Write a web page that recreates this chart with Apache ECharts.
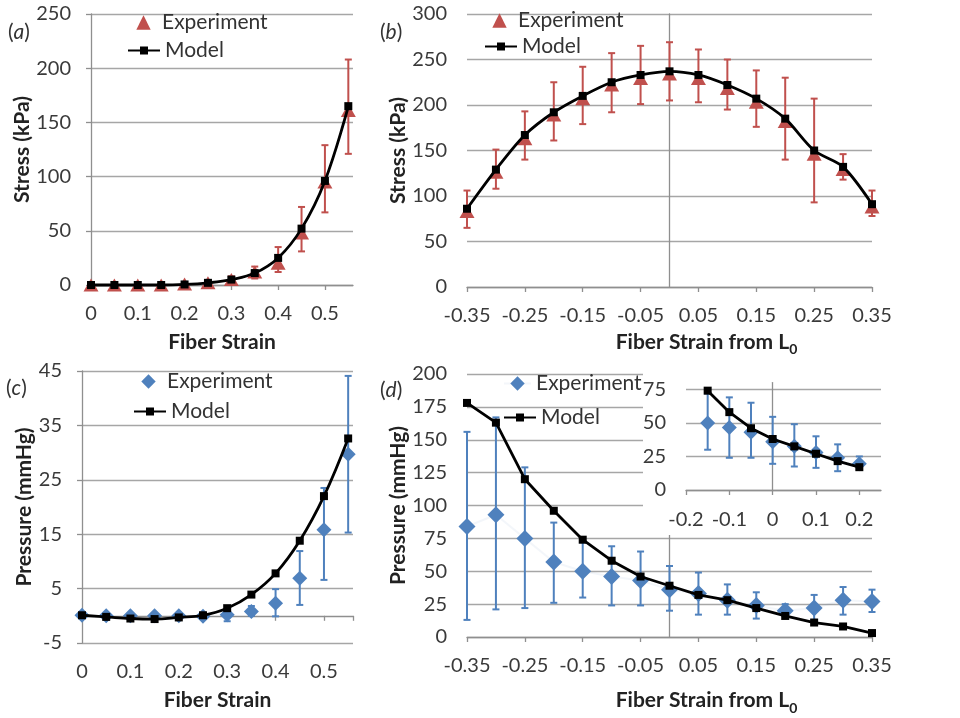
<!DOCTYPE html>
<html><head><meta charset="utf-8">
<script src="https://cdn.jsdelivr.net/npm/echarts@6/dist/echarts.min.js"></script>
<style>html,body{margin:0;padding:0;background:#fff}#c{width:960px;height:718px}</style>
</head><body><div id="c"></div>
<script>
// ---------- data ----------
const strainA = [0, 0.05, 0.1, 0.15, 0.2, 0.25, 0.3, 0.35, 0.4, 0.45, 0.5, 0.55];
const expA    = [0, 0, 0, 0, 1, 2, 5, 12, 20, 48, 95, 161];
const expALo  = [0, 0, 0, 0, 0, 0, 1, 6, 12, 31, 67, 121];
const expAHi  = [0, 0, 0, 1, 2, 4, 8, 17, 35, 72, 129, 208];
const modelA  = [0, 0, 0, 0, 0.5, 2, 5, 11, 25, 52, 96, 165];

const strainB = [-0.35, -0.3, -0.25, -0.2, -0.15, -0.1, -0.05, 0, 0.05, 0.1, 0.15, 0.2, 0.25, 0.3, 0.35];
const expB    = [83, 126, 163, 189, 207, 222, 229, 234, 229, 218, 203, 182, 146, 129, 88];
const expBLo  = [65, 108, 140, 161, 179, 192, 201, 205, 203, 195, 176, 140, 93, 118, 78];
const expBHi  = [106, 151, 193, 225, 242, 257, 265, 269, 261, 250, 238, 230, 207, 146, 106];
const modelB  = [86, 129, 167, 192, 210, 225, 233, 237, 233, 222, 207, 185, 150, 132, 91];

const strainC = [0, 0.05, 0.1, 0.15, 0.2, 0.25, 0.3, 0.35, 0.4, 0.45, 0.5, 0.55];
const expC    = [0.1, 0, 0, 0, 0, -0.1, 0.2, 0.8, 2.3, 6.9, 15.8, 29.7];
const expCLo  = [0, 0, 0, 0, 0, -0.1, -1, 0, -0.1, 2, 6.6, 15.3];
const expCHi  = [0.2, 0, 0, 0, 0, -0.1, 1.2, 1.8, 4.9, 11.9, 23.5, 44.1];
const modelC  = [0.1, -0.2, -0.5, -0.6, -0.3, 0.1, 1.4, 3.9, 7.8, 13.8, 22, 32.6];

const strainD = [-0.35, -0.3, -0.25, -0.2, -0.15, -0.1, -0.05, 0, 0.05, 0.1, 0.15, 0.2, 0.25, 0.3, 0.35];
const expD    = [84, 93, 75, 57, 50, 46, 43, 36, 33, 28, 24, 20, 22, 28, 27];
const expDLo  = [13, 21, 22, 26, 30, 24, 24, 20, 17, 17, 14, 16, 13, 17, 19];
const expDHi  = [156, 167, 129, 87, 72, 69, 65, 54, 49, 40, 34, 25, 32, 38, 36];
const modelD  = [178, 163, 120, 96, 74, 58, 46, 39, 32, 28, 22, 16, 11, 8, 3];

const strainIn = [-0.15, -0.1, -0.05, 0, 0.05, 0.1, 0.15, 0.2];
const expIn    = [50, 46.5, 43, 36, 32.5, 28, 24, 19.5];
const expInLo  = [30, 24, 24, 19.5, 17.5, 16.5, 14, 16];
const expInHi  = [72, 69, 65, 54.5, 49, 40, 34, 25];
const modelIn  = [74, 58, 46, 38, 32.5, 27, 21.5, 17];

// ---------- style ----------
const FONT = 'Lato, "Open Sans", "DejaVu Sans", sans-serif';
const GRID = '#a6a6a6', AXIS = '#8f8f8f', TXT = '#3a3a3a', TITLE = '#222';
const RED = '#C0504D', BLUE = '#4F81BD';

const pairs = (x, y) => x.map((v, i) => [v, y[i]]);
const triples = (x, lo, hi) => x.map((v, i) => [v, lo[i], hi[i]]);

function errRender(color) {
  return function (params, api) {
    const x = api.value(0);
    const p1 = api.coord([x, api.value(1)]);
    const p2 = api.coord([x, api.value(2)]);
    const st = { stroke: color, lineWidth: 2 };
    const c = 3.5;
    return { type: 'group', children: [
      { type: 'line', shape: { x1: p1[0], y1: p1[1], x2: p2[0], y2: p2[1] }, style: st },
      { type: 'line', shape: { x1: p1[0] - c, y1: p1[1], x2: p1[0] + c, y2: p1[1] }, style: st },
      { type: 'line', shape: { x1: p2[0] - c, y1: p2[1], x2: p2[0] + c, y2: p2[1] }, style: st }
    ]};
  };
}

const labelStyle = { fontFamily: FONT, fontSize: 20, color: TXT };
const nameStyleX = { fontFamily: FONT, fontSize: 21, fontWeight: 'bold', color: TITLE, lineHeight: 30,
  rich: { s: { fontFamily: FONT, fontSize: 14, fontWeight: 'bold', color: TITLE, verticalAlign: 'bottom', lineHeight: 14 } } };
const nameStyleY = { fontFamily: FONT, fontSize: 21, fontWeight: 'bold', color: TITLE };

function xAxis(gi, min, max, interval, o) {
  return Object.assign({
    type: 'value', gridIndex: gi, min: min, max: max, interval: interval, position: 'bottom',
    axisLine: { show: true, onZero: false, lineStyle: { color: AXIS, width: 1.3 } },
    axisTick: { show: true, length: 5, lineStyle: { color: AXIS, width: 1.3 } },
    axisLabel: Object.assign({ margin: 19, showMaxLabel: false }, labelStyle),
    splitLine: { show: false },
    nameLocation: 'middle', nameTextStyle: nameStyleX
  }, o || {});
}
function yAxis(gi, min, max, interval, o) {
  return Object.assign({
    type: 'value', gridIndex: gi, min: min, max: max, interval: interval, position: 'left',
    axisLine: { show: true, onZero: false, lineStyle: { color: AXIS, width: 1.3 } },
    axisTick: { show: true, length: 5, lineStyle: { color: AXIS, width: 1.3 } },
    axisLabel: Object.assign({ margin: 20 }, labelStyle),
    splitLine: { show: true, lineStyle: { color: GRID, width: 1.3 } },
    nameLocation: 'middle', nameRotate: 90, nameTextStyle: nameStyleY
  }, o || {});
}
function zeroY(gi, min, max, z) {
  return { type: 'value', gridIndex: gi, min: min, max: max, position: 'left', z: z || 0,
    axisLine: { show: true, onZero: true, lineStyle: { color: AXIS, width: 1.3 } },
    axisTick: { show: false }, axisLabel: { show: false }, splitLine: { show: false } };
}

function errSeries(name, xi, yi, x, lo, hi, color, z) {
  return { type: 'custom', name: name, xAxisIndex: xi, yAxisIndex: yi, z: z,
    renderItem: errRender(color), encode: { x: 0, y: [1, 2] }, data: triples(x, lo, hi), silent: true, clip: false };
}
function expSeries(name, xi, yi, x, y, color, sym, size, z, faint) {
  return { type: 'line', name: name, xAxisIndex: xi, yAxisIndex: yi, z: z,
    data: pairs(x, y), symbol: sym, symbolSize: size, showSymbol: true, clip: false, silent: true,
    itemStyle: { color: color }, animation: false,
    lineStyle: faint ? { width: 2, color: 'rgba(79,129,189,0.07)' } : { width: 0, opacity: 0 } };
}
function modelSeries(name, xi, yi, x, y, smooth, z) {
  return { type: 'line', name: name, xAxisIndex: xi, yAxisIndex: yi, z: z,
    data: pairs(x, y), symbol: 'rect', symbolSize: 8, showSymbol: true, clip: false, silent: true,
    smooth: smooth, itemStyle: { color: '#000' }, lineStyle: { color: '#000', width: 2.8 }, animation: false };
}

function legendPair(expName, modName, expLeft, expCy, modLeft, modCy) {
  const base = { orient: 'vertical', padding: 0, selectedMode: false,
    formatter: n => n.replace(/ \(.\)$/, ''),
    textStyle: { fontFamily: FONT, fontSize: 21, color: '#333' } };
  return [
    Object.assign({}, base, { data: [expName], left: expLeft, top: expCy - 12, itemWidth: 27, itemHeight: 18 }),
    Object.assign({}, base, { data: [modName], left: modLeft, top: modCy - 12, itemWidth: 32, itemHeight: 10 })
  ];
}

function panelTitle(letter, left, top) {
  return { text: '({i|' + letter + '})', left: left, top: top, padding: 0,
    textStyle: { fontFamily: FONT, fontSize: 21, fontWeight: 'normal', color: '#333',
      rich: { i: { fontFamily: FONT, fontSize: 21, fontStyle: 'italic', color: '#333' } } } };
}

const option = {
  animation: false,
  backgroundColor: '#fff',
  title: [panelTitle('a', 8, 22), panelTitle('b', 380, 22), panelTitle('c', 6, 378), panelTitle('d', 380, 380)],
  legend: [].concat(
    legendPair('Experiment (a)', 'Model (a)', 130, 24, 127, 52),
    legendPair('Experiment (b)', 'Model (b)', 486, 22, 484, 48),
    legendPair('Experiment (c)', 'Model (c)', 135, 383, 133, 413),
    legendPair('Experiment (d)', 'Model (d)', 503, 385, 503, 419)
  ),
  grid: [
    { left: 91, top: 14, width: 262, height: 271 },
    { left: 467, top: 14, width: 405, height: 273 },
    { left: 82, top: 371, width: 271, height: 272 },
    { left: 467, top: 374, width: 405, height: 263 },
    { left: 686, top: 382.6, width: 195, height: 107.4 }
  ],
  graphic: [
    { type: 'rect', left: 643, top: 366, shape: { width: 317, height: 169 }, style: { fill: '#fff' }, z: 5, silent: true }
  ],
  xAxis: [
    xAxis(0, 0, 0.56, 0.1, { name: 'Fiber Strain', nameGap: 42 }),
    xAxis(1, -0.35, 0.35, 0.1, { name: 'Fiber Strain from L{s|0}', nameGap: 39, axisLabel: Object.assign({ margin: 19, showMaxLabel: true }, labelStyle),
      nameTextStyle: Object.assign({}, nameStyleX, { padding: [0, 0, 0, 74] }) }),
    xAxis(2, 0, 0.56, 0.1, { name: 'Fiber Strain', nameGap: 42, axisLine: { show: false, onZero: false }, axisTick: { show: false } }),
    xAxis(2, 0, 0.56, 0.1, { axisLine: { show: true, onZero: true, lineStyle: { color: AXIS, width: 1.3 } }, axisLabel: { show: false } }),
    xAxis(3, -0.35, 0.35, 0.1, { name: 'Fiber Strain from L{s|0}', nameGap: 48, axisLabel: Object.assign({ margin: 19, showMaxLabel: true }, labelStyle),
      nameTextStyle: Object.assign({}, nameStyleX, { padding: [0, 0, 0, 74] }) }),
    xAxis(4, -0.2, 0.25, 0.1, { z: 6, axisLabel: Object.assign({ margin: 20, showMaxLabel: false }, labelStyle) })
  ],
  yAxis: [
    yAxis(0, 0, 250, 50, { name: 'Stress (kPa)', nameGap: 58 }),
    yAxis(1, 0, 300, 50, { name: 'Stress (kPa)', nameGap: 53, axisLine: { show: false, onZero: false }, axisTick: { show: false } }),
    zeroY(1, 0, 300),
    yAxis(2, -5, 45, 10, { name: 'Pressure (mmHg)', nameGap: 42 }),
    yAxis(3, 0, 200, 25, { name: 'Pressure (mmHg)', nameGap: 52, axisLine: { show: false, onZero: false }, axisTick: { show: false } }),
    zeroY(3, 0, 200),
    yAxis(4, 0, 80, 25, { z: 6, axisLine: { show: false, onZero: false }, axisTick: { show: false },
      axisLabel: Object.assign({ margin: 20, showMaxLabel: false }, labelStyle),
      splitLine: { show: true, showMaxLine: false, lineStyle: { color: GRID, width: 1.3 } } }),
    zeroY(4, 0, 80, 6)
  ],
  series: [
    errSeries('errA', 0, 0, strainA, expALo, expAHi, RED, 2),
    expSeries('Experiment (a)', 0, 0, strainA, expA, RED, 'triangle', [15, 13], 3),
    modelSeries('Model (a)', 0, 0, strainA, modelA, 0.4, 4),

    errSeries('errB', 1, 1, strainB, expBLo, expBHi, RED, 2),
    expSeries('Experiment (b)', 1, 1, strainB, expB, RED, 'triangle', [15, 13], 3),
    modelSeries('Model (b)', 1, 1, strainB, modelB, 0.3, 4),

    errSeries('errC', 3, 3, strainC, expCLo, expCHi, BLUE, 2),
    expSeries('Experiment (c)', 3, 3, strainC, expC, BLUE, 'diamond', 15, 3),
    modelSeries('Model (c)', 3, 3, strainC, modelC, 0.4, 4),

    errSeries('errD', 4, 4, strainD, expDLo, expDHi, BLUE, 2),
    expSeries('Experiment (d)', 4, 4, strainD, expD, BLUE, 'diamond', 17, 3, true),
    modelSeries('Model (d)', 4, 4, strainD, modelD, false, 4),

    errSeries('errIn', 5, 6, strainIn, expInLo, expInHi, BLUE, 7),
    expSeries('Experiment (in)', 5, 6, strainIn, expIn, BLUE, 'diamond', 15, 8),
    modelSeries('Model (in)', 5, 6, strainIn, modelIn, false, 9)
  ]
};

const chart = echarts.init(document.getElementById('c'), null, { renderer: 'canvas' });
chart.setOption(option);
</script>
</body></html>
